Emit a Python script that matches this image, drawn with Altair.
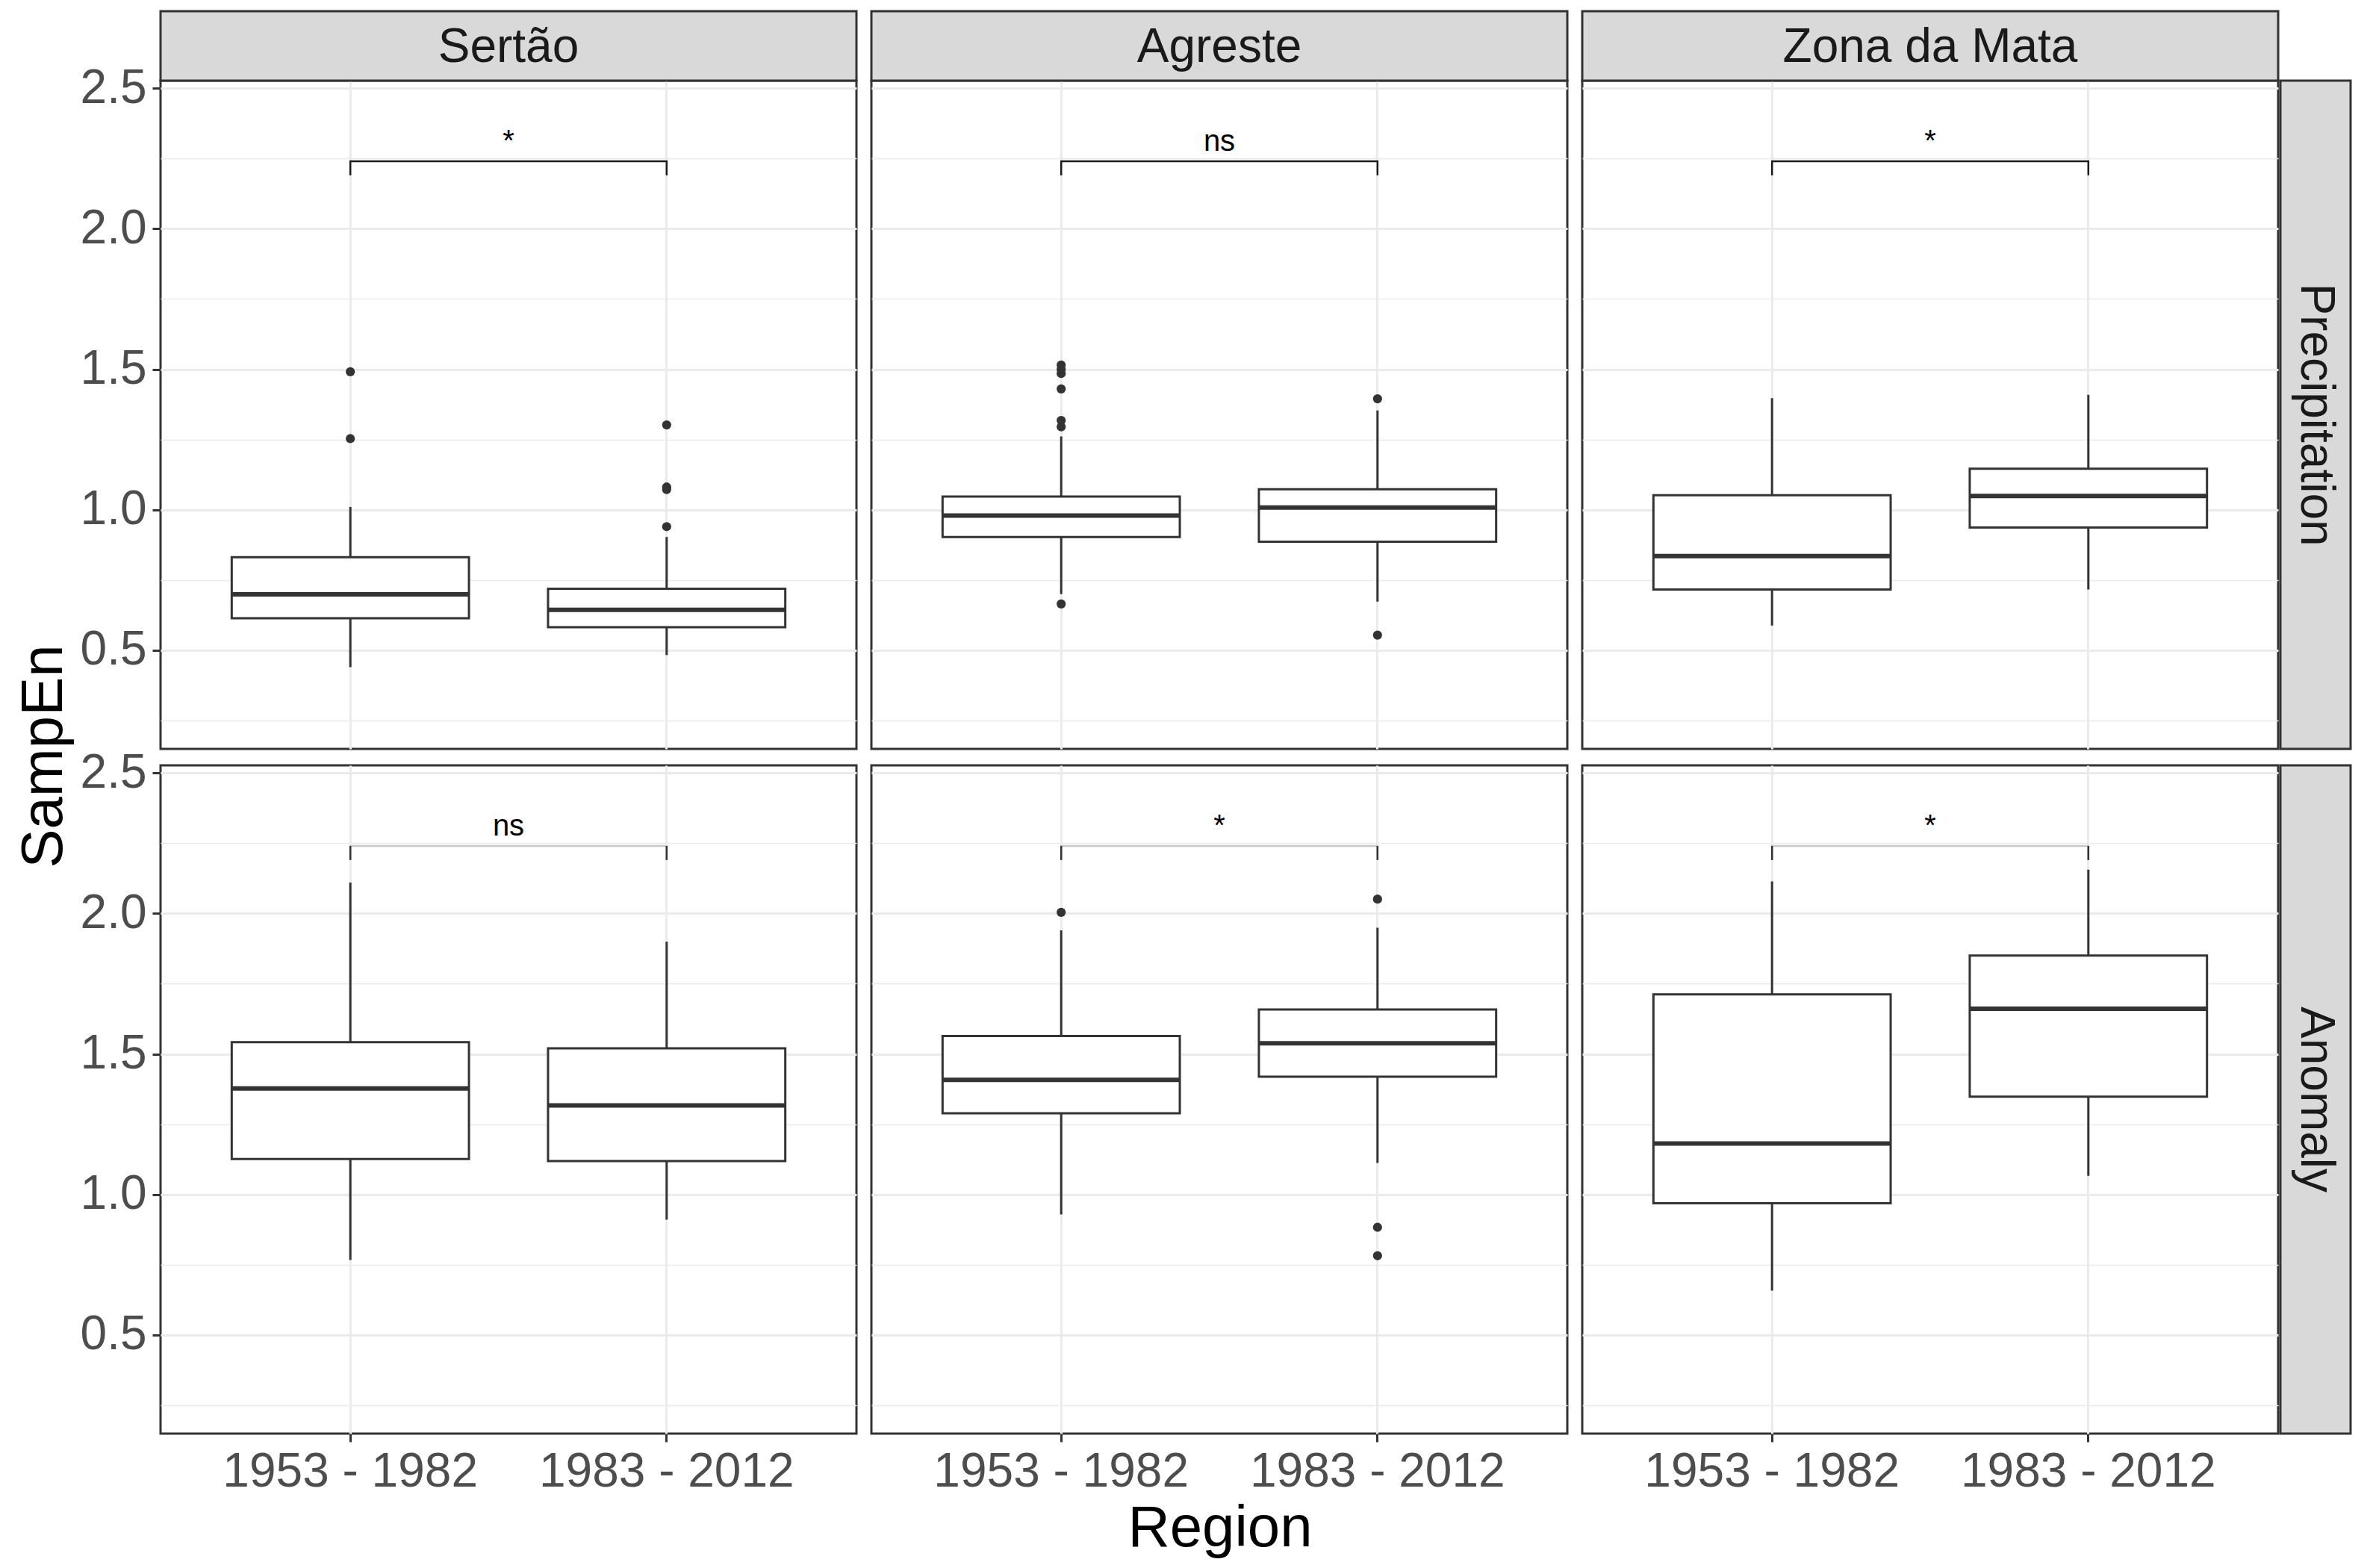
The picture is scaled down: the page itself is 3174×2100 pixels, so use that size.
import altair as alt
import pandas as pd

FONT = "Liberation Sans"

REGIONS = ["Sertão", "Agreste", "Zona da Mata"]
VARIABLES = ["Precipitation", "Anomaly"]
PERIODS = ["1953 - 1982", "1983 - 2012"]

# Box statistics, ordered variable -> region -> period
BOX_VARIABLE = ["Precipitation"] * 6 + ["Anomaly"] * 6
BOX_REGION = ["Sertão", "Sertão", "Agreste", "Agreste", "Zona da Mata", "Zona da Mata"] * 2
BOX_PERIOD = PERIODS * 6
LOWER = [0.440, 0.483, 0.700, 0.673, 0.588, 0.716,
         0.767, 0.910, 0.929, 1.112, 0.658, 1.066]
Q1 = [0.614, 0.582, 0.903, 0.886, 0.716, 0.937,
      1.126, 1.119, 1.289, 1.419, 0.969, 1.348]
MEDIAN = [0.699, 0.644, 0.979, 1.008, 0.835, 1.049,
          1.377, 1.317, 1.408, 1.538, 1.181, 1.661]
Q3 = [0.831, 0.719, 1.047, 1.073, 1.052, 1.146,
      1.542, 1.520, 1.564, 1.658, 1.712, 1.850]
UPPER = [1.010, 0.903, 1.261, 1.353, 1.397, 1.409,
         2.110, 1.899, 1.940, 1.949, 2.114, 2.156]

# Outliers
OUT_VARIABLE = ["Precipitation"] * 15 + ["Anomaly"] * 4
OUT_REGION = (["Sertão"] * 6 + ["Agreste"] * 9 + ["Agreste"] * 4)
OUT_PERIOD = ([PERIODS[0]] * 2 + [PERIODS[1]] * 4 +
              [PERIODS[0]] * 7 + [PERIODS[1]] * 2 +
              [PERIODS[0]] * 1 + [PERIODS[1]] * 3)
OUT_VALUE = [1.491, 1.253,
             1.302, 1.081, 1.072, 0.940,
             1.515, 1.500, 1.485, 1.430, 1.318, 1.295, 0.665,
             1.395, 0.554,
             2.004,
             2.051, 0.883, 0.782]

# Significance labels, ordered variable -> region
SIG_VARIABLE = ["Precipitation"] * 3 + ["Anomaly"] * 3
SIG_REGION = REGIONS * 2
SIG_LABEL = ["*", "ns", "*", "ns", "*", "*"]
BRACKET_Y = 2.24
BRACKET_TIP = 2.19

# ---------------- build table ----------------
rows = []
for v, r, p, lo, a, m, b, hi in zip(BOX_VARIABLE, BOX_REGION, BOX_PERIOD, LOWER, Q1, MEDIAN, Q3, UPPER):
    rows.append(dict(kind="box", variable=v, region=r, period=p,
                     lower=lo, q1=a, median=m, q3=b, upper=hi))
for v, r, p, val in zip(OUT_VARIABLE, OUT_REGION, OUT_PERIOD, OUT_VALUE):
    rows.append(dict(kind="outlier", variable=v, region=r, period=p, value=val))
for v, r, lab in zip(SIG_VARIABLE, SIG_REGION, SIG_LABEL):
    path = [(PERIODS[0], BRACKET_TIP), (PERIODS[0], BRACKET_Y),
            (PERIODS[1], BRACKET_Y), (PERIODS[1], BRACKET_TIP)]
    for i, (p, val) in enumerate(path):
        rows.append(dict(kind="bracket", variable=v, region=r, period=p, value=val, seq=i))
    for p in PERIODS:
        rows.append(dict(kind="tip", variable=v, region=r, period=p,
                         value=BRACKET_TIP, value2=BRACKET_Y))
    rows.append(dict(kind="label", variable=v, region=r, value=BRACKET_Y, label=lab))
for r in REGIONS:
    rows.append(dict(kind="strip_col", variable=VARIABLES[0], region=r))
    rows.append(dict(kind="pad_bottom", variable=VARIABLES[-1], region=r))
for v in VARIABLES:
    rows.append(dict(kind="strip_row", variable=v, region=REGIONS[-1]))
    rows.append(dict(kind="pad_left", variable=v, region=REGIONS[0]))
df = pd.DataFrame(rows)

# ---------------- layout ----------------
W, H = 932, 895
SH = 93      # top strip height
SW = 94      # right strip width
BANDW = W / 2.2 * 0.75
DARK = "#333333"

XS = alt.Scale(type="band", paddingInner=0.25, paddingOuter=0.225)
XAXIS = alt.Axis(title=None, grid=True, bandPosition=0.5, labelAngle=0,
                 gridColor="#ebebeb", gridWidth=3, labelLimit=2000)
YS = alt.Scale(domain=[0.149, 2.527], nice=False, zero=False)
YAXIS = alt.Axis(
    title=None,
    values=[0.25, 0.5, 0.75, 1.0, 1.25, 1.5, 1.75, 2.0, 2.25, 2.5],
    labelExpr="(datum.value * 4) % 2 == 0 ? format(datum.value, '.1f') : ''",
    grid=True, gridColor="#ebebeb",
    gridWidth={"condition": {"test": "(datum.value * 4) % 2 == 0", "value": 3}, "value": 1.5},
    tickOpacity={"condition": {"test": "(datum.value * 4) % 2 == 0", "value": 1}, "value": 0},
    labelOverlap=False,
)


def X():
    return alt.X("period:N", scale=XS, axis=XAXIS, sort=PERIODS)


def Y(field):
    return alt.Y(field, scale=YS, axis=YAXIS)


whisk = alt.Chart().transform_filter(alt.datum.kind == "box").mark_rule(
    color=DARK, strokeWidth=3
).encode(x=X(), y=Y("lower:Q"), y2="upper:Q")

box = alt.Chart().transform_filter(alt.datum.kind == "box").mark_bar(
    fill="white", stroke=DARK, strokeWidth=3
).encode(x=X(), y=Y("q1:Q"), y2="q3:Q")

med = alt.Chart().transform_filter(alt.datum.kind == "box").mark_tick(
    color=DARK, thickness=6, size=BANDW, opacity=1
).encode(x=X(), y=Y("median:Q"))

outl = alt.Chart().transform_filter(alt.datum.kind == "outlier").mark_circle(
    size=150, color=DARK, opacity=1
).encode(x=X(), y=Y("value:Q"))

bracket = alt.Chart().transform_filter(alt.datum.kind == "bracket").mark_line(
    strokeWidth=2.5
).encode(
    x=X(), y=Y("value:Q"), order="seq:Q",
    color=alt.condition(alt.datum.variable == "Precipitation",
                        alt.value("#1a1a1a"), alt.value("#c8c8c8")),
)

tips = alt.Chart().transform_filter(
    (alt.datum.kind == "tip") & (alt.datum.variable == "Anomaly")
).mark_rule(color=DARK, strokeWidth=2.5).encode(x=X(), y=Y("value:Q"), y2="value2:Q")

labels = alt.Chart().transform_filter(alt.datum.kind == "label").mark_text(
    font=FONT, fontSize=40, color="black", baseline="bottom", dy=-6
).encode(x=alt.value(W / 2), y=Y("value:Q"), text="label:N")

strip_col_rect = alt.Chart().transform_filter(alt.datum.kind == "strip_col").mark_rect(
    fill="#d9d9d9", stroke=DARK, strokeWidth=3
).encode(x=alt.value(0), x2=alt.value(W), y=alt.value(-SH), y2=alt.value(0))

strip_col_text = alt.Chart().transform_filter(alt.datum.kind == "strip_col").mark_text(
    font=FONT, fontSize=64, color="#1a1a1a", baseline="middle", align="center"
).encode(x=alt.value(W / 2), y=alt.value(-SH / 2 + 2), text="region:N")

strip_row_rect = alt.Chart().transform_filter(alt.datum.kind == "strip_row").mark_rect(
    fill="#d9d9d9", stroke=DARK, strokeWidth=3
).encode(x=alt.value(W + 3), x2=alt.value(W + 3 + SW), y=alt.value(0), y2=alt.value(H))

strip_row_text = alt.Chart().transform_filter(alt.datum.kind == "strip_row").mark_text(
    font=FONT, fontSize=64, color="#1a1a1a", baseline="middle", align="center", angle=90
).encode(x=alt.value(W + 3 + SW / 2), y=alt.value(H / 2), text="variable:N")

# invisible counterweights so the shared titles centre on the panels only
pad_left = alt.Chart().transform_filter(alt.datum.kind == "pad_left").mark_rect(
    opacity=0
).encode(x=alt.value(-SW - 3), x2=alt.value(0), y=alt.value(0), y2=alt.value(H))

pad_bottom = alt.Chart().transform_filter(alt.datum.kind == "pad_bottom").mark_rect(
    opacity=0
).encode(x=alt.value(0), x2=alt.value(W), y=alt.value(H), y2=alt.value(H + SH))

cell = alt.layer(
    whisk, box, med, outl, bracket, tips, labels,
    strip_col_rect, strip_col_text, strip_row_rect, strip_row_text,
    pad_left, pad_bottom,
).properties(width=W, height=H)

chart = cell.facet(
    row=alt.Row("variable:N", sort=VARIABLES,
                header=alt.Header(labels=False, title="SampEn", titleFont=FONT,
                                  titleFontSize=78, titleColor="black",
                                  titleFontWeight="normal", titlePadding=-2)),
    column=alt.Column("region:N", sort=REGIONS,
                      header=alt.Header(labels=False, title="Region", titleOrient="bottom",
                                        titleFont=FONT, titleFontSize=78, titleColor="black",
                                        titleFontWeight="normal", titlePadding=-4)),
    data=df,
    spacing={"row": 22, "column": 20},
    bounds="flush",
).properties(
    padding={"left": 12, "top": 4, "right": 10, "bottom": 10},
    background="white",
).configure(
    font=FONT,
).configure_view(
    stroke=DARK, strokeWidth=3, fill="white",
).configure_axis(
    labelFont=FONT, labelFontSize=64, labelColor="#4d4d4d",
    tickColor=DARK, tickWidth=3, tickSize=11, labelPadding=8,
    domain=False,
)

chart.save("out.html", embed_options={"renderer": "svg", "actions": False})
